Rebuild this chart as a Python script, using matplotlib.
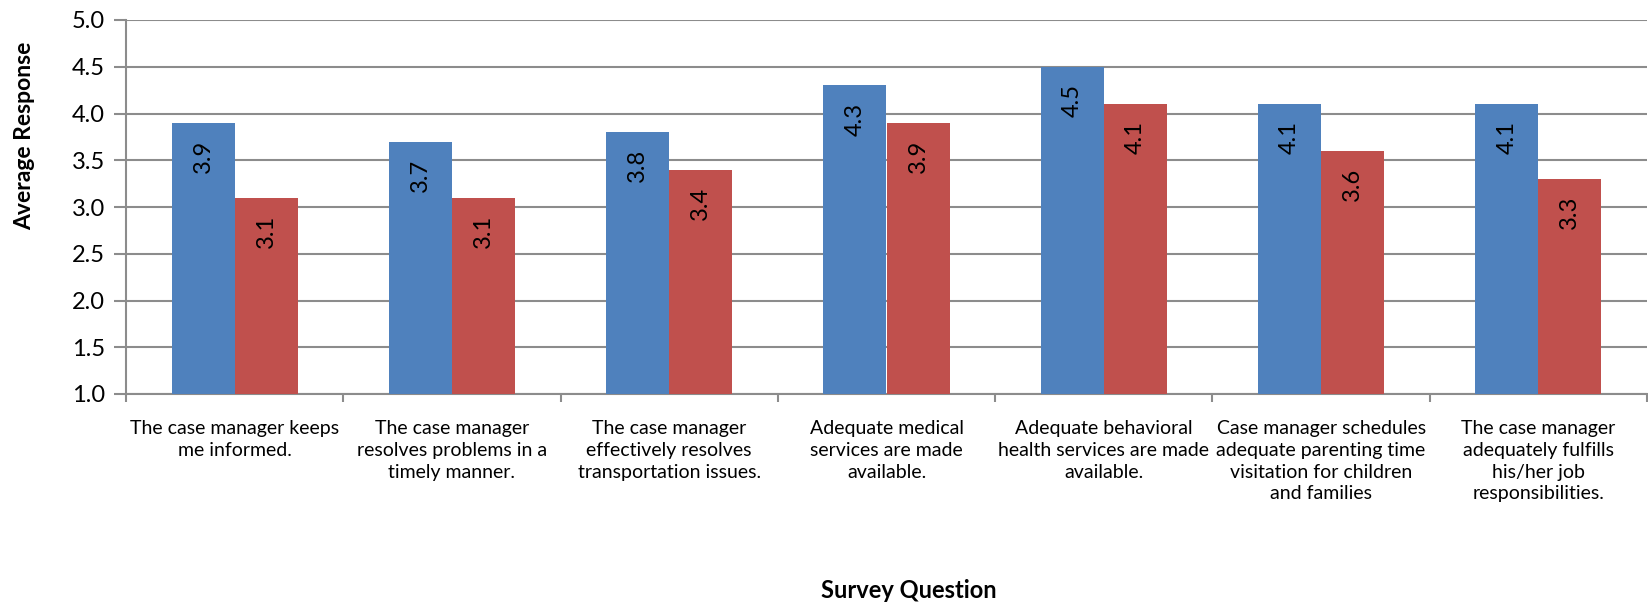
import matplotlib
matplotlib.use("Agg")
import matplotlib.pyplot as plt
import numpy as np

categories = [
    "The case manager keeps\nme informed.",
    "The case manager\nresolves problems in a\ntimely manner.",
    "The case manager\neffectively resolves\ntransportation issues.",
    "Adequate medical\nservices are made\navailable.",
    "Adequate behavioral\nhealth services are made\navailable.",
    "Case manager schedules\nadequate parenting time\nvisitation for children\nand families",
    "The case manager\nadequately fulfills\nhis/her job\nresponsibilities.",
]
series_blue = [3.9, 3.7, 3.8, 4.3, 4.5, 4.1, 4.1]
series_red = [3.1, 3.1, 3.4, 3.9, 4.1, 3.6, 3.3]
yticks = [1.0, 1.5, 2.0, 2.5, 3.0, 3.5, 4.0, 4.5, 5.0]

plt.rcParams['font.family'] = ['Lato', 'DejaVu Sans']

fig = plt.figure(figsize=(16.48, 6.07), dpi=100)
ax = fig.add_axes([126/1648, 1-394/607, 1521/1648, 374/607])

x = np.arange(len(categories))
w = 0.29
blue = '#4F81BD'
red = '#C0504D'
b1 = ax.bar(x - w/2, series_blue, w, color=blue, zorder=3)
b2 = ax.bar(x + w/2, series_red, w, color=red, zorder=3)

for bars, vals in ((b1, series_blue), (b2, series_red)):
    for rect, v in zip(bars, vals):
        ax.annotate(f"{v:.1f}", xy=(rect.get_x() + rect.get_width()/2, v),
                    xytext=(0, -17), textcoords='offset pixels',
                    rotation=90, ha='center', va='top', fontsize=17, color='black', zorder=4)

ax.set_ylim(1.0, 5.0)
ax.set_xlim(-0.5, len(categories) - 0.5)
ax.set_yticks(yticks)
ax.set_yticklabels([f"{t:.1f}" for t in yticks], fontsize=17)
ax.yaxis.grid(True, color='#8c8c8c', linewidth=1.5, zorder=0)
ax.set_axisbelow(True)

ax.set_xticks(np.arange(len(categories) + 1) - 0.5)
ax.set_xticklabels([])
ax.set_xticks(x, minor=True)
ax.set_xticklabels(categories, minor=True, fontsize=14, linespacing=1.33)
ax.tick_params(axis='x', which='minor', length=0, pad=19)
ax.tick_params(axis='x', which='major', length=6, width=1.5, color='#8c8c8c')
ax.tick_params(axis='y', length=9, width=1.5, color='#8c8c8c', pad=6)

for s in ['top', 'right']:
    ax.spines[s].set_visible(False)
for s in ['left', 'bottom']:
    ax.spines[s].set_color('#8c8c8c')
    ax.spines[s].set_linewidth(1.5)

fig.text(25/1648, 1-136/607, 'Average Response', rotation=90, ha='center', va='center',
         fontsize=16.5, fontweight='bold')
fig.text(909/1648, 1-591/607, 'Survey Question', ha='center', va='center',
         fontsize=17, fontweight='bold')

fig.savefig('out.png', dpi=100)
